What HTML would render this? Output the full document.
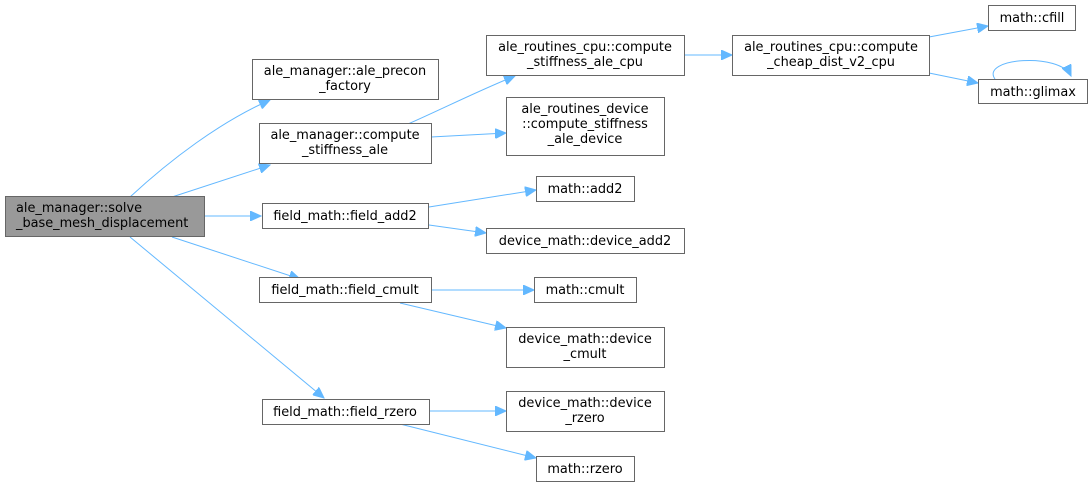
<!DOCTYPE html>
<html><head><meta charset="utf-8"><style>
html,body{margin:0;padding:0;background:#fff;}
svg{display:block;}
text{font-family:"DejaVu Sans","Liberation Sans",sans-serif;font-size:12.9px;fill:#000;text-anchor:middle;}
rect{fill:#fff;stroke:#666;stroke-width:1;}
path{fill:none;stroke:#63b8ff;stroke-width:1;}
</style></head><body>
<svg width="1092" height="487" viewBox="0 0 1092 487">
<defs><marker id="a" markerWidth="12" markerHeight="10" refX="11" refY="5" orient="auto" markerUnits="userSpaceOnUse"><path d="M0,0 L11,5 L0,10 Z" style="fill:#63b8ff;stroke:#63b8ff"/></marker></defs>
<g marker-end="url(#a)">
<path d="M130,197 C170,160 220,122 270,100"/>
<path d="M172,197 L270,165"/>
<path d="M204,216 L261,216"/>
<path d="M172,237 L300,279"/>
<path d="M130,237 L324,398"/>
<path d="M408,124 C440,110 480,90 515,76"/>
<path d="M431,137 L506,133"/>
<path d="M429,207 L536,190"/>
<path d="M429,225 L486,233"/>
<path d="M431,290 L534,290"/>
<path d="M400,303 L506,328"/>
<path d="M429,411 L506,411"/>
<path d="M400,424 L536,458"/>
<path d="M684,55 L732,55"/>
<path d="M929,37 L988,26"/>
<path d="M929,73 L978,83"/>
<path d="M995,79 C980,58 1060,52 1071,76"/>
</g>
<rect x="5.5" y="196.5" width="199" height="40" style="fill:#999"/>
<text x="16" y="212" style="text-anchor:start">ale_manager::solve</text><text x="16" y="227" style="text-anchor:start">_base_mesh_displacement</text>
<rect x="252.5" y="59.5" width="186" height="40"/><text x="345" y="75">ale_manager::ale_precon</text><text x="345" y="90">_factory</text>
<rect x="259.5" y="123.5" width="172" height="40"/><text x="345" y="139">ale_manager::compute</text><text x="345" y="154">_stiffness_ale</text>
<rect x="262.5" y="203.5" width="166" height="25"/><text x="345" y="220">field_math::field_add2</text>
<rect x="259.5" y="277.5" width="172" height="25"/><text x="345" y="294">field_math::field_cmult</text>
<rect x="262.5" y="399.5" width="167" height="25"/><text x="345" y="416">field_math::field_rzero</text>
<rect x="486.5" y="35.5" width="198" height="40"/><text x="585" y="51">ale_routines_cpu::compute</text><text x="585" y="66">_stiffness_ale_cpu</text>
<rect x="506.5" y="97.5" width="158" height="58"/><text x="585" y="113">ale_routines_device</text><text x="585" y="128">::compute_stiffness</text><text x="585" y="143">_ale_device</text>
<rect x="536.5" y="176.5" width="98" height="25"/><text x="585" y="193">math::add2</text>
<rect x="486.5" y="228.5" width="198" height="25"/><text x="585" y="245">device_math::device_add2</text>
<rect x="534.5" y="277.5" width="102" height="25"/><text x="585" y="294">math::cmult</text>
<rect x="506.5" y="327.5" width="158" height="40"/><text x="585" y="343">device_math::device</text><text x="585" y="358">_cmult</text>
<rect x="506.5" y="391.5" width="158" height="40"/><text x="585" y="407">device_math::device</text><text x="585" y="422">_rzero</text>
<rect x="536.5" y="456.5" width="98" height="25"/><text x="585" y="473">math::rzero</text>
<rect x="732.5" y="35.5" width="197" height="40"/><text x="831" y="51">ale_routines_cpu::compute</text><text x="831" y="66">_cheap_dist_v2_cpu</text>
<rect x="988.5" y="5.5" width="87" height="25"/><text x="1032" y="22">math::cfill</text>
<rect x="978.5" y="79.5" width="109" height="24"/><text x="1033" y="96">math::glimax</text>
</svg>
</body></html>
